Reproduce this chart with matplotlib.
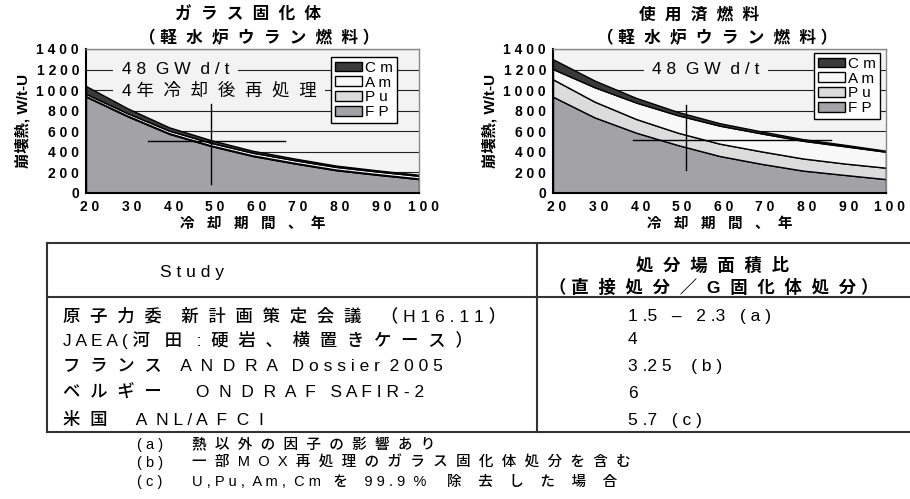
import numpy as np
import matplotlib.pyplot as plt
from matplotlib.patches import Patch
from matplotlib.lines import Line2D
from matplotlib.transforms import ScaledTranslation

plt.rcParams['font.family'] = ['Liberation Sans', 'Noto Sans CJK JP']

years = [20, 30, 40, 50, 60, 70, 80, 90, 100]

# ガラス固化体 (W/t-U)
glass_fp = [936, 745, 575, 457, 360, 288, 222, 177, 135]
glass_pu = [6, 6, 6, 6, 6, 6, 6, 6, 6]
glass_am = [22, 24, 25, 25, 26, 26, 26, 26, 26]
glass_cm = [76, 48, 32, 26, 19, 16, 13, 11, 10]

# 使用済燃料 (W/t-U)
spent_fp = [936, 735, 586, 466, 360, 284, 218, 176, 135]
spent_pu = [169, 153, 133, 120, 120, 121, 118, 111, 111]
spent_am = [100, 140, 160, 170, 175, 175, 172, 168, 155]
spent_cm = [95, 65, 45, 32, 24, 19, 16, 14, 10]

legend_labels = ["C m", "A m", "P u", "F P"]
yticks = [0, 200, 400, 600, 800, 1000, 1200, 1400]
xticks = [20, 30, 40, 50, 60, 70, 80, 90, 100]

# crosshair marks (year, W/t-U)
glass_vline = [50, 84, 862]
glass_hline = [502, 34.8, 67.8]
spent_vline = [52, 227, 859]
spent_hline = [512, 39.3, 86.7]

studies = [
    "原  子  力  委    新  計  画  策  定  会  議    （ H 1 6 . 1 1 ）",
    "J A E A ( 河   田   :  硬  岩  、  横  置  き  ケ  ー  ス  ）",
    "フ  ラ  ン  ス    A  N  D  R  A   D o s s i e r  2 0 0 5",
    "ベ  ル  ギ  ー       O  N  D  R  A  F   S A F I R - 2",
    "米  国      A  N L / A  F  C  I",
]
ratios = ["1 .5   –   2 .3   ( a )", "4", "3 .2 5    ( b )", "6", "5 .7   ( c )"]
notes_key = ["( a )", "( b )", "( c )"]
notes = [
    "熱  以  外  の  因  子  の  影  響  あ  り",
    "一  部  M  O  X  再  処  理  の  ガ  ラ  ス  固  化  体  処  分  を  含  む",
    "U , P u ,  A m ,  C m   を    9 9 . 9  %     除    去    し    た    場    合",
]

colors = ['#a2a2a7', '#dcdcdc', '#f8f8f8', '#3a3a3a']  # FP, Pu, Am, Cm
bg = '#f3f3f3'

W, H = 910, 499
fig = plt.figure(figsize=(W / 100, H / 100), dpi=100)


def fx(px):
    return px / W


def fy(py):
    return 1 - py / H


def chart(left, fp, pu, am, cm, vline, hline, notes_txt, leg_anchor):
    ax = fig.add_axes([fx(left), fy(193), fx(333), 144 / H])
    ax.set_facecolor(bg)
    ax.stackplot(years, fp, pu, am, cm, colors=colors, edgecolor='black',
                 linewidth=1.0, zorder=1)
    ax.set_xlim(20, 100)
    ax.set_ylim(0, 1400)
    ax.set_axisbelow(True)
    ax.yaxis.grid(True, color='#222222', linewidth=0.8)
    ax.set_yticks(yticks)
    ax.set_yticklabels([" ".join(str(v)) for v in yticks], fontsize=10, fontweight='bold')
    ax.set_xticks(xticks)
    ax.set_xticklabels([" ".join(str(v)) for v in xticks], fontsize=10, fontweight='bold')
    ax.tick_params(length=0, pad=5)
    shift = ScaledTranslation(4 / 100, 0, fig.dpi_scale_trans)
    for lbl in ax.get_xticklabels():
        lbl.set_transform(lbl.get_transform() + shift)
    for s in ['left', 'bottom']:
        ax.spines[s].set_linewidth(1.5)
        ax.spines[s].set_color('black')
    for s in ['top', 'right']:
        ax.spines[s].set_linewidth(1.0)
        ax.spines[s].set_color('#888888')
    ax.set_xlabel("冷   却   期   間   、  年", fontsize=10.5, fontweight='bold', labelpad=2)
    ax.set_ylabel("崩壊熱, W/t-U", fontsize=11, fontweight='bold', labelpad=4)

    ax.plot([vline[0], vline[0]], vline[1:], color='black', lw=1, zorder=2)
    ax.plot(hline[1:], [hline[0], hline[0]], color='black', lw=1, zorder=2)

    for (x, y, s) in notes_txt:
        ax.text(x, y, s, fontsize=12.5, va='center', ha='left', zorder=0.8,
                bbox=dict(facecolor=bg, edgecolor='none', pad=6))

    handles = [Patch(facecolor=c, edgecolor='black', linewidth=1) for c in colors[::-1]]
    leg = ax.legend(handles, legend_labels, loc='upper right', bbox_to_anchor=leg_anchor,
                    borderaxespad=0, fontsize=11, handlelength=1.8, handleheight=0.6,
                    handletextpad=0.2, labelspacing=0.05, borderpad=0.25,
                    fancybox=False, framealpha=1, edgecolor='black')
    leg.get_frame().set_linewidth(1.0)
    leg.set_zorder(5)
    return ax


chart(86, glass_fp, glass_pu, glass_am, glass_cm, glass_vline, glass_hline,
      [(28.6, 1200, "4 8  G W  d / t"), (28.6, 1000, "4 年  冷  却  後  再  処  理")],
      (0.934, 0.944))
chart(553, spent_fp, spent_pu, spent_am, spent_cm, spent_vline, spent_hline,
      [(43.8, 1200, "4 8  G W  d / t")],
      (0.982, 0.972))

# chart titles
fig.text(fx(248), fy(15), "ガ  ラ  ス  固  化  体", fontsize=12, fontweight='bold',
         ha='center', va='center')
fig.text(fx(259), fy(38), "（ 軽  水  炉  ウ  ラ  ン  燃  料 ）", fontsize=12,
         fontweight='bold', ha='center', va='center')
fig.text(fx(699), fy(15), "使  用  済  燃  料", fontsize=12, fontweight='bold',
         ha='center', va='center')
fig.text(fx(717), fy(38), "（ 軽  水  炉  ウ  ラ  ン  燃  料 ）", fontsize=12,
         fontweight='bold', ha='center', va='center')

# table
lc = '#333333'
for y in [243, 297, 432]:
    fig.add_artist(Line2D([fx(47), fx(910)], [fy(y), fy(y)], color=lc, lw=1.5))
for x in [47, 537]:
    fig.add_artist(Line2D([fx(x), fx(x)], [fy(243), fy(432)], color=lc, lw=1.5))

fig.text(fx(192), fy(272), "S t u d y", fontsize=12.5, ha='center', va='center')
fig.text(fx(712), fy(265), "処  分  場  面  積  比", fontsize=12.5, fontweight='bold',
         ha='center', va='center')
fig.text(fx(714), fy(287), "（ 直  接  処  分  ／  G  固  化  体  処  分 ）", fontsize=12.5,
         fontweight='bold', ha='center', va='center')

row_y = [316, 340, 367, 393, 420]
for y, s, r in zip(row_y, studies, ratios):
    fig.text(fx(63), fy(y), s, fontsize=12.5, fontweight='medium', ha='left', va='center')
    fig.text(fx(628), fy(y), r, fontsize=12.5, fontweight='medium', ha='left', va='center')

note_y = [445, 463, 482]
for y, k, s in zip(note_y, notes_key, notes):
    fig.text(fx(137), fy(y), k, fontsize=10.5, fontweight='medium', ha='left', va='center')
    fig.text(fx(192), fy(y), s, fontsize=10.5, fontweight='medium', ha='left', va='center')

fig.savefig("out.png", dpi=100)
